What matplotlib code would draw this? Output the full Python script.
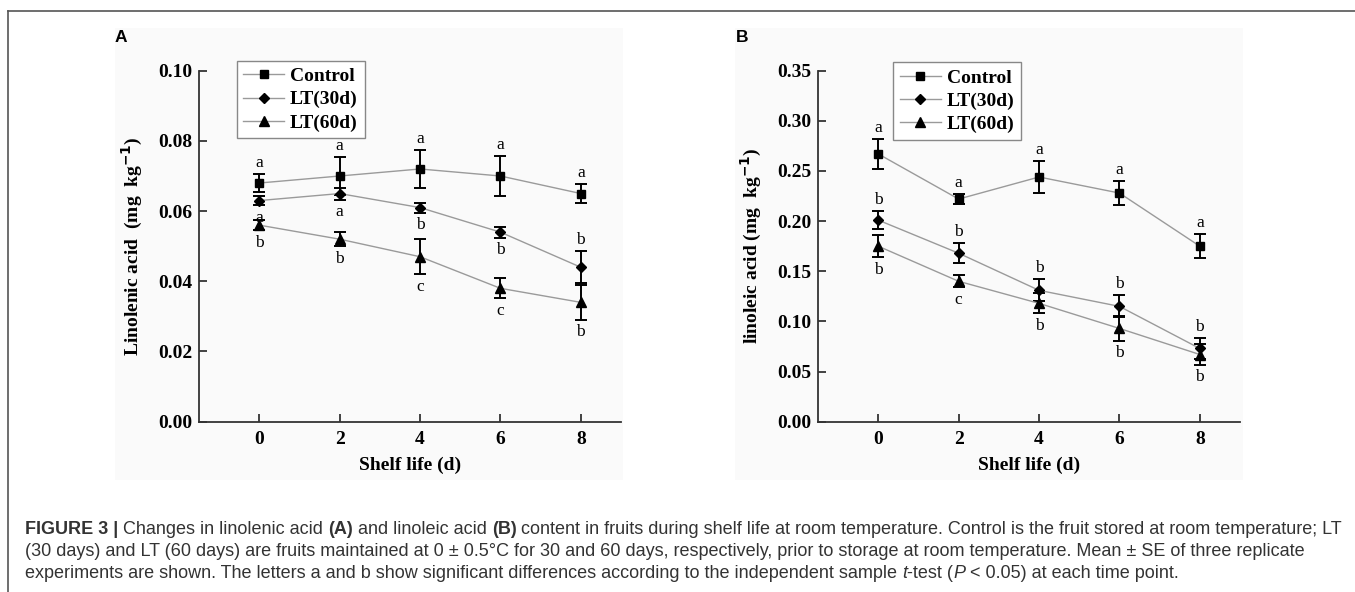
import matplotlib
matplotlib.use("Agg")
import matplotlib.pyplot as plt
from matplotlib.lines import Line2D
import numpy as np

W, H = 1355, 592

# ---------------- data ----------------
days = [0, 2, 4, 6, 8]
series_names = ["Control", "LT(30d)", "LT(60d)"]

# Panel A: linolenic acid
a_control = [0.068, 0.070, 0.072, 0.070, 0.065]
a_control_se = [0.0025, 0.0053, 0.0055, 0.0058, 0.0027]
a_lt30 = [0.063, 0.065, 0.061, 0.054, 0.044]
a_lt30_se = [0.0013, 0.0017, 0.0014, 0.0016, 0.0045]
a_lt60 = [0.056, 0.052, 0.047, 0.038, 0.034]
a_lt60_se = [0.0015, 0.002, 0.005, 0.0028, 0.005]
a_control_letters = ["a", "a", "a", "a", "a"]
a_lt30_letters = ["a", "a", "b", "b", "b"]
a_lt60_letters = ["b", "b", "c", "c", "b"]
a_control_pos = ["above"] * 5
a_lt30_pos = ["below", "below", "below", "below", "above"]
a_lt60_pos = ["below"] * 5

# Panel B: linoleic acid
b_control = [0.267, 0.222, 0.244, 0.228, 0.175]
b_control_se = [0.015, 0.005, 0.0155, 0.012, 0.012]
b_lt30 = [0.201, 0.168, 0.131, 0.115, 0.073]
b_lt30_se = [0.009, 0.0097, 0.011, 0.011, 0.010]
b_lt60 = [0.175, 0.140, 0.118, 0.093, 0.067]
b_lt60_se = [0.011, 0.006, 0.010, 0.0125, 0.010]
b_control_letters = ["a", "a", "a", "a", "a"]
b_lt30_letters = ["b", "b", "b", "b", "b"]
b_lt60_letters = ["b", "c", "b", "b", "b"]
b_control_pos = ["above"] * 5
b_lt30_pos = ["above"] * 5
b_lt60_pos = ["below"] * 5

x_ticks = [0, 2, 4, 6, 8]
a_yticks = [0.00, 0.02, 0.04, 0.06, 0.08, 0.10]
b_yticks = [0.00, 0.05, 0.10, 0.15, 0.20, 0.25, 0.30, 0.35]

# ---------------- style ----------------
SERIF = ["Liberation Serif", "DejaVu Serif"]
SANS = ["Liberation Sans", "DejaVu Sans"]
markers = ["s", "D", "^"]
msizes = [5.5, 5.5, 7]
AXC = "#333333"

fig = plt.figure(figsize=(W / 100, H / 100), dpi=100)
fig.patch.set_facecolor("white")


def px(x, y):
    return x / W, 1 - y / H


# frame lines
fig.add_artist(Line2D([8 / W, 8 / W], [1 - 11 / H, 0], transform=fig.transFigure,
                      color="#555555", lw=1.2))
fig.add_artist(Line2D([8 / W, 1], [1 - 11 / H, 1 - 11 / H], transform=fig.transFigure,
                      color="#555555", lw=1.2))

# subtle image backgrounds
for x0 in (115, 735):
    fig.add_artist(plt.Rectangle(px(x0, 480), 508 / W, 452 / H, transform=fig.transFigure,
                                 facecolor="#fafafa", edgecolor="none", zorder=-5))


def make_panel(left_px, vals, ses, letters, poss, yticks, ylim, ylabel, legx, legy):
    top_px, bot_px = 70.7, 421.7
    ax = fig.add_axes([left_px / W, 1 - bot_px / H, 422 / W, (bot_px - top_px) / H])
    ax.set_facecolor("none")
    handles = []
    for i in range(3):
        ax.errorbar(days, vals[i], yerr=ses[i], fmt="none", ecolor="black",
                    elinewidth=1.4, capsize=4, capthick=1.4, zorder=3)
        h, = ax.plot(days, vals[i], color="#9a9a9a", lw=1.0, marker=markers[i],
                     ms=msizes[i], mfc="black", mec="black", zorder=4,
                     label=series_names[i])
        handles.append(h)
        for xd, yv, e, lt, ps in zip(days, vals[i], ses[i], letters[i], poss[i]):
            if ps == "above":
                ax.annotate(lt, (xd, yv + e), xytext=(0, 8), textcoords="offset points",
                            ha="center", va="center", fontsize=12.5, family=SERIF, zorder=5)
            else:
                ax.annotate(lt, (xd, yv - e), xytext=(0, -9), textcoords="offset points",
                            ha="center", va="center", fontsize=12.5, family=SERIF, zorder=5)
    ax.set_xlim(-1.5, 9)
    ax.set_ylim(*ylim)
    ax.set_xticks(x_ticks)
    ax.set_yticks(yticks)
    ax.set_yticklabels([f"{t:.2f}" for t in yticks])
    for s in ("top", "right"):
        ax.spines[s].set_visible(False)
    for s in ("left", "bottom"):
        ax.spines[s].set_color(AXC)
        ax.spines[s].set_linewidth(1.3)
    ax.tick_params(direction="in", length=5.5, width=1.3, color=AXC, pad=5)
    for lab in ax.get_xticklabels() + ax.get_yticklabels():
        lab.set_fontfamily(SERIF)
        lab.set_fontweight("bold")
        lab.set_fontsize(14)
    ax.tick_params(axis="x", pad=7)
    ax.set_xlabel("Shelf life (d)", fontsize=14, fontweight="bold", family=SERIF, labelpad=6)
    ax.set_ylabel(ylabel, fontsize=14, fontweight="bold", family=SERIF, labelpad=9)
    leg = ax.legend(handles=handles, loc="upper left", bbox_to_anchor=(legx, legy),
                    frameon=True, fancybox=False, edgecolor="#888888", framealpha=1,
                    facecolor="white", handlelength=2.1, handletextpad=0.3,
                    labelspacing=0.28, borderpad=0.35, borderaxespad=0,
                    prop={"family": SERIF, "weight": "bold", "size": 14})
    leg.get_frame().set_linewidth(1.0)
    return ax


make_panel(199, [a_control, a_lt30, a_lt60], [a_control_se, a_lt30_se, a_lt60_se],
           [a_control_letters, a_lt30_letters, a_lt60_letters],
           [a_control_pos, a_lt30_pos, a_lt60_pos],
           a_yticks, (0, 0.10), r"Linolenic acid  (mg  kg$^{\mathbf{-1}}$)", 0.089, 1.028)
make_panel(818, [b_control, b_lt30, b_lt60], [b_control_se, b_lt30_se, b_lt60_se],
           [b_control_letters, b_lt30_letters, b_lt60_letters],
           [b_control_pos, b_lt30_pos, b_lt60_pos],
           b_yticks, (0, 0.35), r"linoleic acid (mg  kg$^{\mathbf{-1}}$)", 0.178, 1.024)

# panel letters
fig.text(*px(121, 37), "A", fontsize=12.5, fontweight="bold", family=SANS,
         ha="center", va="center")
fig.text(*px(742, 37), "B", fontsize=12.5, fontweight="bold", family=SANS,
         ha="center", va="center")

# caption
renderer = fig.canvas.get_renderer()
CAPC = "#333333"

cap_lines = [
    [("FIGURE 3 |", "bold", "normal"),
     (" Changes in linolenic acid ", "normal", "normal"),
     ("(A)", "bold", "normal"),
     (" and linoleic acid ", "normal", "normal"),
     ("(B)", "bold", "normal"),
     (" content in fruits during shelf life at room temperature. Control is the fruit stored at room temperature; LT",
      "normal", "normal")],
    [("(30 days) and LT (60 days) are fruits maintained at 0 \u00b1 0.5\u00b0C for 30 and 60 days, respectively, prior to storage at room temperature. Mean \u00b1 SE of three replicate",
      "normal", "normal")],
    [("experiments are shown. The letters a and b show significant differences according to the independent sample ",
      "normal", "normal"),
     ("t", "normal", "italic"),
     ("-test (", "normal", "normal"),
     ("P", "normal", "italic"),
     (" < 0.05) at each time point.", "normal", "normal")],
]


def draw_runs(x_px, y_px, runs, size, keep=True):
    x = x_px
    made = []
    for txt, wt, st in runs:
        t = fig.text(*px(x, y_px), txt, fontsize=size, fontweight=wt, fontstyle=st,
                     family=SANS, color=CAPC, ha="left", va="center")
        bb = t.get_window_extent(renderer)
        x += bb.width
        made.append(t)
    if not keep:
        for t in made:
            t.remove()
    return x - x_px


# fit the first caption line to the reference width
w10 = draw_runs(25, 529, cap_lines[0], 10, keep=False)
CAPS = 10 * 1318 / w10

for i, runs in enumerate(cap_lines):
    draw_runs(25, 529 + 22 * i, runs, CAPS)

fig.savefig("out.png", dpi=100, facecolor="white")
